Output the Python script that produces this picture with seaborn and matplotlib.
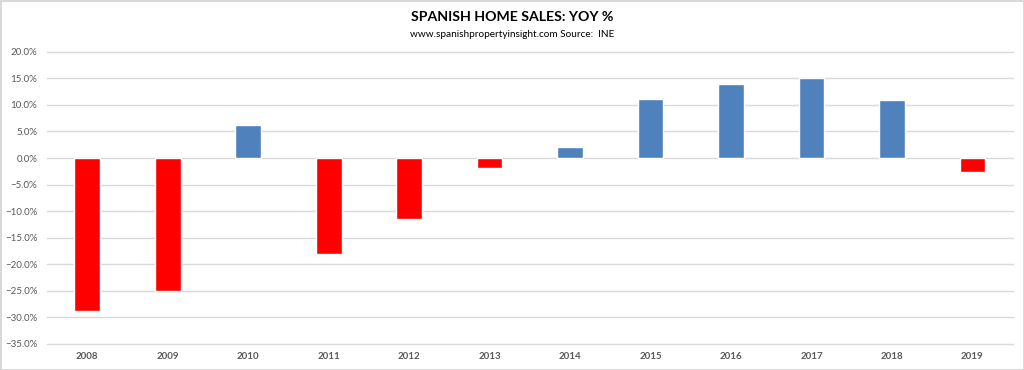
import matplotlib
matplotlib.use("Agg")
import matplotlib.pyplot as plt
import seaborn as sns
import pandas as pd
from matplotlib.ticker import PercentFormatter, MultipleLocator

years = ["2008", "2009", "2010", "2011", "2012", "2013", "2014", "2015", "2016", "2017", "2018", "2019"]
yoy = [-28.8, -25.0, 6.2, -18.0, -11.4, -1.8, 2.0, 11.1, 14.0, 15.0, 10.9, -2.7]
title = "SPANISH HOME SALES: YOY %"
subtitle = "www.spanishpropertyinsight.com Source:  INE"

sns.set_style("white")
plt.rcParams["font.family"] = ["Lato", "DejaVu Sans"]

df = pd.DataFrame({"year": years, "yoy": yoy})
df["sign"] = ["pos" if v >= 0 else "neg" for v in yoy]

fig = plt.figure(figsize=(10.24, 3.70), dpi=100)
fig.patch.set_edgecolor("#d9d9d9")
fig.patch.set_linewidth(2)
ax = fig.add_axes([0.0459, 0.0703, 0.943, 0.7897])

sns.barplot(data=df, x="year", y="yoy", hue="sign", order=years,
            palette={"pos": "#4f81bd", "neg": "#ff0000"}, width=0.32,
            dodge=False, legend=False, ax=ax, saturation=1)

ax.set_ylim(-35, 20)
ax.set_xlim(-0.5, 11.5)
ax.yaxis.set_major_locator(MultipleLocator(5))
ax.yaxis.set_major_formatter(PercentFormatter(decimals=1))
ax.grid(axis="y", color="#d9d9d9", linewidth=1)
ax.set_axisbelow(True)
for gl in ax.get_ygridlines():
    gl.set_clip_on(False)
for s in ax.spines.values():
    s.set_visible(False)
ax.set_xlabel("")
ax.set_ylabel("")
ax.tick_params(axis="both", length=0, labelsize=7, labelcolor="#595959")
ax.tick_params(axis="y", pad=7)
ax.tick_params(axis="x", pad=6)
for lbl in ax.get_xticklabels():
    lbl.set_fontweight("bold")

fig.text(0.5, 0.953, title, ha="center", va="center", fontsize=10.2, fontweight="bold", color="black")
fig.text(0.5, 0.908, subtitle, ha="center", va="center", fontsize=7.2, color="black")

fig.savefig("out.png", dpi=100, facecolor="white", edgecolor=fig.patch.get_edgecolor())
